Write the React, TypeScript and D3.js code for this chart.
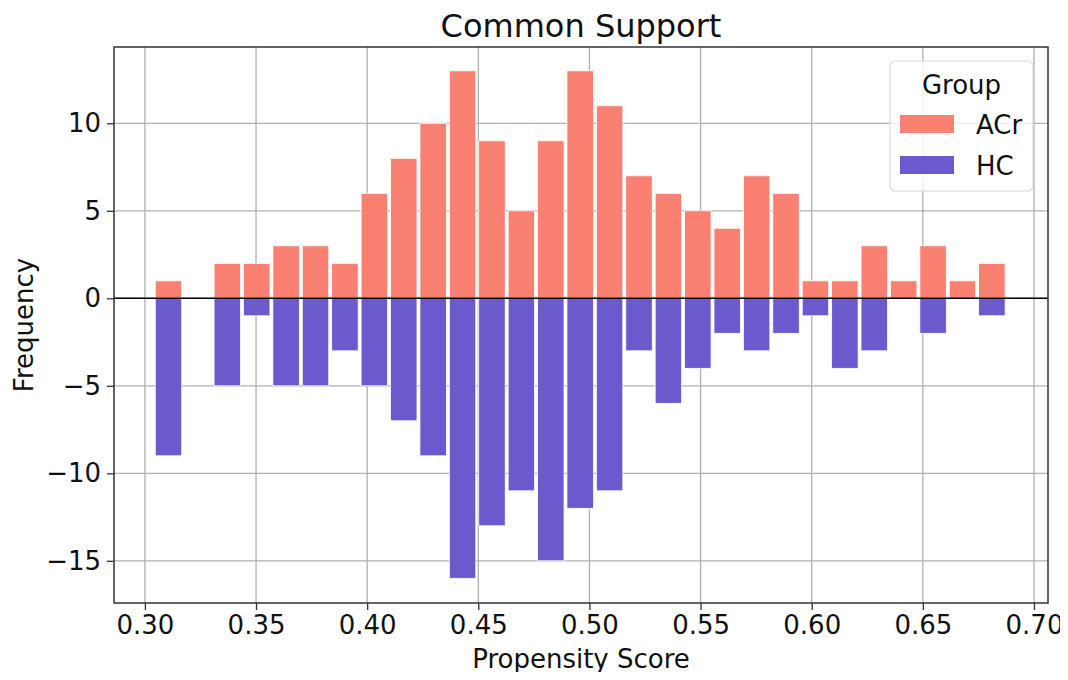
import React, { useEffect, useRef } from 'react';
import * as d3 from 'd3';

// histogram bins (29 equal bins) and counts per group
const binStart = 0.3040;
const binWidth = 0.01323;
const acrCounts = [1, 0, 2, 2, 3, 3, 2, 6, 8, 10, 13, 9, 5, 9, 13, 11, 7, 6, 5, 4, 7, 6, 1, 1, 3, 1, 3, 1, 2];
const hcCounts = [9, 0, 5, 1, 5, 5, 3, 5, 7, 9, 16, 13, 11, 15, 12, 11, 3, 6, 4, 2, 3, 2, 1, 4, 3, 0, 2, 0, 1];
const xTicks = [0.3, 0.35, 0.4, 0.45, 0.5, 0.55, 0.6, 0.65, 0.7];
const yTicks = [-15, -10, -5, 0, 5, 10];
const groups = ['ACr', 'HC'];
const colors = ['#fa8072', '#6a5acd'];

const W = 1068;
const H = 680;
const FONT = 'DejaVu Sans, sans-serif';

const App: React.FC = () => {
  const svgRef = useRef<SVGSVGElement>(null);

  useEffect(() => {
    if (!svgRef.current) return;
    const svg = d3.select(svgRef.current);
    svg.selectAll('*').remove();

    const margin = { top: 47, right: 20, bottom: 77, left: 114 };
    const innerW = W - margin.left - margin.right;
    const innerH = H - margin.top - margin.bottom;

    const x = d3.scaleLinear().domain([0.2861, 0.7063]).range([0, innerW]);
    const y = d3.scaleLinear().domain([-17.41, 14.36]).range([innerH, 0]);

    const g = svg.append('g').attr('transform', `translate(${margin.left},${margin.top})`);

    // grid
    g.append('g')
      .selectAll('line')
      .data(xTicks)
      .enter()
      .append('line')
      .attr('x1', d => x(d)).attr('x2', d => x(d))
      .attr('y1', 0).attr('y2', innerH)
      .attr('stroke', '#b0b0b0').attr('stroke-width', 1.3);
    g.append('g')
      .selectAll('line')
      .data(yTicks)
      .enter()
      .append('line')
      .attr('x1', 0).attr('x2', innerW)
      .attr('y1', d => y(d)).attr('y2', d => y(d))
      .attr('stroke', '#b0b0b0').attr('stroke-width', 1.3);

    const bins = acrCounts.map((_, i) => binStart + i * binWidth);
    const barW = binWidth * 0.9;
    const off = (binWidth - barW) / 2;

    // ACr up
    g.append('g')
      .selectAll('rect')
      .data(bins.map((b, i) => ({ b, v: acrCounts[i] })).filter(d => d.v > 0))
      .enter()
      .append('rect')
      .attr('x', d => x(d.b + off))
      .attr('width', d => x(d.b + off + barW) - x(d.b + off))
      .attr('y', d => y(d.v))
      .attr('height', d => y(0) - y(d.v))
      .attr('fill', colors[0])
      .attr('stroke', '#ffffff').attr('stroke-width', 0.8);

    // HC down
    g.append('g')
      .selectAll('rect')
      .data(bins.map((b, i) => ({ b, v: hcCounts[i] })).filter(d => d.v > 0))
      .enter()
      .append('rect')
      .attr('x', d => x(d.b + off))
      .attr('width', d => x(d.b + off + barW) - x(d.b + off))
      .attr('y', y(0))
      .attr('height', d => y(-d.v) - y(0))
      .attr('fill', colors[1])
      .attr('stroke', '#ffffff').attr('stroke-width', 0.8);

    // zero line
    g.append('line')
      .attr('x1', 0).attr('x2', innerW)
      .attr('y1', y(0)).attr('y2', y(0))
      .attr('stroke', '#000').attr('stroke-width', 1.5);

    // frame
    g.append('rect')
      .attr('width', innerW).attr('height', innerH)
      .attr('fill', 'none').attr('stroke', '#333').attr('stroke-width', 1.5);

    // axes
    const xAxis = g.append('g')
      .attr('transform', `translate(0,${innerH})`)
      .call(d3.axisBottom(x).tickValues(xTicks).tickFormat(d3.format('.2f')).tickSize(7).tickPadding(6));
    const yAxis = g.append('g')
      .call(d3.axisLeft(y).tickValues(yTicks).tickFormat(d => d3.format('d')(d as number).replace('-', '\u2212')).tickSize(7).tickPadding(6));
    [xAxis, yAxis].forEach(a => {
      a.select('.domain').remove();
      a.selectAll('line').attr('stroke', '#333').attr('stroke-width', 1.3);
      a.selectAll('text').attr('fill', '#111').style('font-family', FONT).style('font-size', '26px');
    });

    // title and labels
    svg.append('text')
      .attr('x', margin.left + innerW / 2).attr('y', 37)
      .attr('text-anchor', 'middle')
      .style('font-family', FONT).style('font-size', '32px').attr('fill', '#111')
      .text('Common Support');
    svg.append('text')
      .attr('x', margin.left + innerW / 2).attr('y', 668)
      .attr('text-anchor', 'middle')
      .style('font-family', FONT).style('font-size', '26px').attr('fill', '#111')
      .text('Propensity Score');
    svg.append('text')
      .attr('transform', `translate(33,${margin.top + innerH / 2}) rotate(-90)`)
      .attr('text-anchor', 'middle')
      .style('font-family', FONT).style('font-size', '26px').attr('fill', '#111')
      .text('Frequency');

    // legend
    const lg = svg.append('g').attr('transform', 'translate(890,61)');
    lg.append('rect')
      .attr('width', 143).attr('height', 130).attr('rx', 5)
      .attr('fill', 'rgba(255,255,255,0.8)').attr('stroke', '#d8d8d8').attr('stroke-width', 1.2);
    lg.append('text')
      .attr('x', 71.5).attr('y', 33)
      .attr('text-anchor', 'middle')
      .style('font-family', FONT).style('font-size', '26px').attr('fill', '#111')
      .text('Group');
    groups.forEach((name, i) => {
      lg.append('rect')
        .attr('x', 10).attr('y', 54 + i * 41)
        .attr('width', 54).attr('height', 18)
        .attr('fill', colors[i]);
      lg.append('text')
        .attr('x', 86).attr('y', 73 + i * 41)
        .style('font-family', FONT).style('font-size', '26px').attr('fill', '#111')
        .text(name);
    });
  }, []);

  return <svg ref={svgRef} width={W} height={H} style={{ display: 'block', margin: '-8px', background: '#fff' }} />;
};

export default App;
